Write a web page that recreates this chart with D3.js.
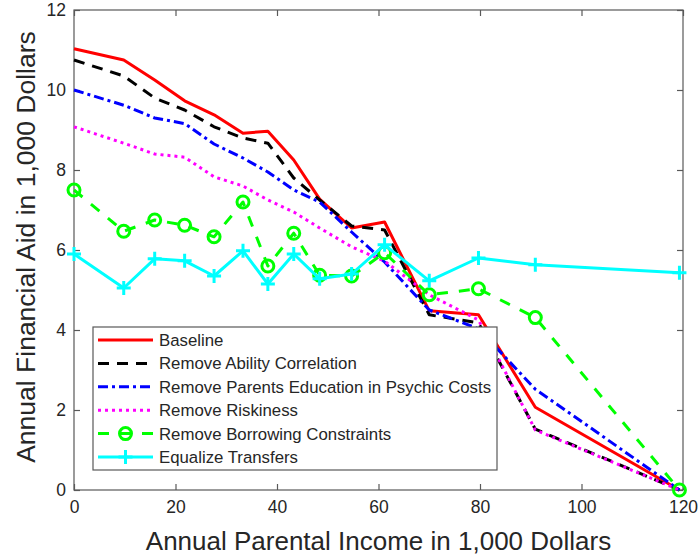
<!DOCTYPE html>
<html><head><meta charset="utf-8">
<script src="https://cdn.jsdelivr.net/npm/d3@7"></script>
<style>body{margin:0;background:#fff}svg{display:block}text{font-family:"Liberation Sans",Arial,sans-serif}</style>
</head><body><div id="chart"></div>
<script>
const income = [0, 9.8, 15.9, 21.8, 27.6, 33.3, 38.2, 43.3, 48.4, 54.7, 61.2, 70.0, 79.7, 90.9, 119.3];
const baseline = [11.03, 10.75, 10.25, 9.73, 9.38, 8.92, 8.97, 8.25, 7.27, 6.55, 6.7, 4.48, 4.38, 2.07, 0];
const removeAbility = [10.75, 10.35, 9.8, 9.5, 9.08, 8.8, 8.67, 7.8, 7.25, 6.6, 6.5, 4.38, 4.18, 1.52, 0];
const removeParentsEdu = [10.0, 9.62, 9.3, 9.16, 8.65, 8.3, 7.95, 7.5, 7.2, 6.45, 5.7, 4.5, 4.03, 2.52, 0];
const removeRiskiness = [9.08, 8.67, 8.4, 8.32, 7.83, 7.6, 7.25, 6.95, 6.55, 6.08, 5.72, 4.88, 4.25, 1.5, 0];
const removeBorrowing = [7.5, 6.47, 6.75, 6.62, 6.33, 7.2, 5.6, 6.42, 5.37, 5.35, 5.93, 4.88, 5.03, 4.31, 0];
const equalizeTransfers = [5.9, 5.05, 5.78, 5.73, 5.35, 5.98, 5.15, 5.9, 5.28, 5.4, 6.13, 5.23, 5.8, 5.63, 5.43];
const seriesNames = ["Baseline", "Remove Ability Correlation", "Remove Parents Education in Psychic Costs", "Remove Riskiness", "Remove Borrowing Constraints", "Equalize Transfers"];
const xTicks = [0, 20, 40, 60, 80, 100, 120];
const yTicks = [0, 2, 4, 6, 8, 10, 12];
const xLabel = "Annual Parental Income in 1,000 Dollars";
const yLabel = "Annual Financial Aid in 1,000 Dollars";

const styles = [
  {color:"#ff0000", dash:null, marker:null},
  {color:"#000000", dash:"11,8", marker:null},
  {color:"#0000ff", dash:"10,4,3,4", marker:null},
  {color:"#ff00ff", dash:"3,4", marker:null},
  {color:"#00ff00", dash:"11,11", marker:"circle"},
  {color:"#00ffff", dash:null, marker:"plus"}
];
const allSeries = [baseline, removeAbility, removeParentsEdu, removeRiskiness, removeBorrowing, equalizeTransfers];

const W = 700, H = 558;
const L = 74, R = 683, T = 10, B = 490;
const svg = d3.select("#chart").append("svg").attr("width", W).attr("height", H);
const x = d3.scaleLinear().domain([0,120]).range([L,R]);
const y = d3.scaleLinear().domain([0,12]).range([B,T]);
const axisColor = "#595959";

svg.append("rect").attr("x",L).attr("y",T).attr("width",R-L).attr("height",B-T)
  .attr("fill","none").attr("stroke",axisColor).attr("stroke-width",1.2);

function styleAxis(g){
  g.select(".domain").remove();
  g.selectAll(".tick line").attr("stroke",axisColor).attr("stroke-width",1.2);
  g.selectAll(".tick text").attr("fill","#262626").style("font-size","17.5px").style("font-family","'Liberation Sans',Arial,sans-serif");
}
svg.append("g").attr("transform",`translate(0,${B})`)
  .call(d3.axisBottom(x).tickValues(xTicks).tickSize(-6).tickPadding(11)).call(styleAxis);
svg.append("g").attr("transform",`translate(0,${T})`)
  .call(d3.axisTop(x).tickValues(xTicks).tickSize(-6).tickFormat("")).call(styleAxis);
svg.append("g").attr("transform",`translate(${L},0)`)
  .call(d3.axisLeft(y).tickValues(yTicks).tickSize(-6).tickPadding(8)).call(styleAxis);
svg.append("g").attr("transform",`translate(${R},0)`)
  .call(d3.axisRight(y).tickValues(yTicks).tickSize(-6).tickFormat("")).call(styleAxis);

const line = d3.line().x(d=>x(d[0])).y(d=>y(d[1]));
const plot = svg.append("g");
function drawMarker(g, type, cx, cy, color){
  if(type==="circle"){
    g.append("circle").attr("cx",cx).attr("cy",cy).attr("r",6).attr("fill","none").attr("stroke",color).attr("stroke-width",3);
  } else if(type==="plus"){
    g.append("path").attr("d",`M${cx-7},${cy}H${cx+7}M${cx},${cy-7}V${cy+7}`).attr("stroke",color).attr("stroke-width",3).attr("fill","none");
  }
}
allSeries.forEach((vals,i)=>{
  const st = styles[i];
  const pts = income.map((xi,j)=>[xi, vals[j]]);
  plot.append("path").attr("d",line(pts)).attr("fill","none").attr("stroke",st.color)
    .attr("stroke-width",3).attr("stroke-dasharray",st.dash).attr("stroke-linejoin","round");
  if(st.marker) pts.forEach(p=>drawMarker(plot, st.marker, x(p[0]), y(p[1]), st.color));
});

const lg = svg.append("g");
const lx = 93, ly = 327, lw = 404, lh = 143;
lg.append("rect").attr("x",lx).attr("y",ly).attr("width",lw).attr("height",lh).attr("fill","#fff").attr("stroke",axisColor).attr("stroke-width",1.2);
seriesNames.forEach((name,i)=>{
  const cy = 340 + i*23.4;
  const st = styles[i];
  lg.append("path").attr("d",`M98,${cy}H153`).attr("stroke",st.color).attr("stroke-width",3)
    .attr("stroke-dasharray",st.dash).attr("fill","none");
  if(st.marker) drawMarker(lg, st.marker, 125.5, cy, st.color);
  lg.append("text").attr("x",159).attr("y",cy).attr("dy","0.36em").attr("fill","#262626")
    .style("font-size","16.8px").text(name);
});

svg.append("text").attr("x",(L+R)/2).attr("y",550).attr("text-anchor","middle").attr("fill","#262626")
  .style("font-size","26px").text(xLabel);
svg.append("text").attr("transform",`translate(35,247) rotate(-90)`).attr("text-anchor","middle").attr("fill","#262626")
  .style("font-size","26.5px").text(yLabel);
</script></body></html>
